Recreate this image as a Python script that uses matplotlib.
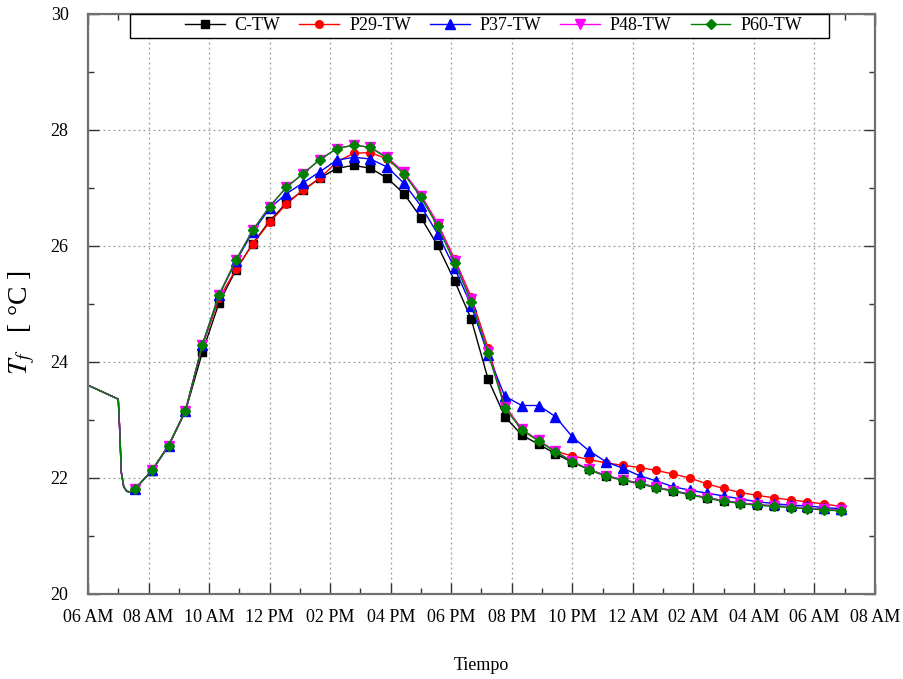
import matplotlib
matplotlib.use("Agg")
import matplotlib.pyplot as plt
from matplotlib.ticker import MultipleLocator
from matplotlib.patches import Rectangle

plt.rcParams['font.family'] = ['Liberation Serif', 'DejaVu Serif']
plt.rcParams['mathtext.fontset'] = 'stix'

# hours after 06:00
t_pre = [0.0, 1.0, 1.05, 1.1, 1.18, 1.28, 1.4]
v_pre = [23.60, 23.36, 22.80, 22.10, 21.85, 21.77, 21.76]

t_mk = [1.55, 2.11, 2.66, 3.22, 3.78, 4.33, 4.89, 5.44, 6.00, 6.55, 7.11, 7.66,
        8.22, 8.78, 9.33, 9.89, 10.44, 11.00, 11.55, 12.11, 12.66, 13.22, 13.77,
        14.33, 14.89, 15.44, 16.00, 16.55, 17.11, 17.66, 18.22, 18.77, 19.33,
        19.88, 20.44, 21.00, 21.55, 22.11, 22.66, 23.22, 23.77, 24.33, 24.88]

c_tw = [21.81, 22.12, 22.55, 23.15, 24.17, 25.02, 25.59, 26.04, 26.43, 26.74, 26.96, 27.17,
        27.34, 27.39, 27.34, 27.17, 26.90, 26.49, 26.01, 25.40, 24.74, 23.70, 23.06,
        22.74, 22.58, 22.42, 22.27, 22.15, 22.04, 21.97, 21.91, 21.84, 21.78,
        21.72, 21.66, 21.61, 21.57, 21.54, 21.52, 21.50, 21.48, 21.46, 21.44]
p29_tw = [21.81, 22.13, 22.56, 23.16, 24.28, 25.10, 25.60, 26.03, 26.41, 26.72, 26.97, 27.17,
          27.45, 27.60, 27.61, 27.50, 27.25, 26.88, 26.39, 25.78, 25.12, 24.24, 23.25,
          22.84, 22.64, 22.46, 22.38, 22.32, 22.26, 22.22, 22.18, 22.13, 22.07,
          22.00, 21.90, 21.82, 21.75, 21.70, 21.66, 21.62, 21.59, 21.55, 21.51]
p37_tw = [21.81, 22.13, 22.56, 23.16, 24.30, 25.15, 25.74, 26.24, 26.65, 26.90, 27.09, 27.28,
          27.48, 27.53, 27.50, 27.36, 27.08, 26.69, 26.21, 25.62, 24.97, 24.12, 23.41,
          23.25, 23.25, 23.06, 22.71, 22.47, 22.28, 22.17, 22.04, 21.95, 21.85,
          21.79, 21.74, 21.69, 21.64, 21.59, 21.56, 21.53, 21.52, 21.49, 21.47]
p48_tw = [21.81, 22.13, 22.56, 23.16, 24.30, 25.16, 25.76, 26.27, 26.68, 27.01, 27.25, 27.49,
          27.68, 27.74, 27.70, 27.53, 27.27, 26.87, 26.38, 25.75, 25.08, 24.18, 23.23,
          22.84, 22.65, 22.46, 22.29, 22.15, 22.04, 21.97, 21.91, 21.84, 21.78,
          21.72, 21.66, 21.61, 21.57, 21.54, 21.52, 21.50, 21.48, 21.46, 21.44]
p60_tw = [21.81, 22.13, 22.56, 23.16, 24.30, 25.16, 25.76, 26.27, 26.68, 27.01, 27.25, 27.49,
          27.68, 27.74, 27.70, 27.51, 27.24, 26.84, 26.34, 25.71, 25.04, 24.15, 23.21,
          22.83, 22.64, 22.45, 22.28, 22.14, 22.03, 21.96, 21.90, 21.83, 21.77,
          21.71, 21.65, 21.60, 21.56, 21.53, 21.51, 21.49, 21.47, 21.45, 21.43]

names = ['C-TW', 'P29-TW', 'P37-TW', 'P48-TW', 'P60-TW']
series = [c_tw, p29_tw, p37_tw, p48_tw, p60_tw]
colors = ['#000000', '#ff0000', '#0000ff', '#ff00ff', '#008000']
markers = ['s', 'o', '^', 'v', 'D']
msizes = [5.5, 5.5, 6.5, 6.5, 5.5]

xtick_labels = ['06 AM', '08 AM', '10 AM', '12 PM', '02 PM', '04 PM', '06 PM', '08 PM',
                '10 PM', '12 AM', '02 AM', '04 AM', '06 AM', '08 AM']

W, H = 904, 679
fig = plt.figure(figsize=(W/100, H/100), dpi=100)
ax = fig.add_axes([88/W, 1-594/H, (875-88)/W, (594-14)/H])

for name, vals, col, mk, ms in zip(names, series, colors, markers, msizes):
    xs = t_pre + t_mk
    ys = v_pre + vals
    ax.plot(xs, ys, color=col, lw=1.0, marker=mk, ms=ms, mec=col, mfc=col,
            markevery=list(range(len(t_pre), len(xs))), label=name)

ax.set_xlim(0, 26)
ax.set_ylim(20, 30)
ax.set_xticks(range(0, 27, 2))
ax.set_xticklabels(xtick_labels)
ax.xaxis.set_minor_locator(MultipleLocator(1))
ax.set_yticks([20, 22, 24, 26, 28, 30])
ax.yaxis.set_minor_locator(MultipleLocator(1))

ax.grid(True, which='major', color='#9a9a9a', linestyle=(0, (1.5, 2.5)), lw=0.9)
ax.tick_params(which='both', direction='in', top=True, right=True, colors='#333333',
               labelcolor='black', labelsize=13)
ax.tick_params(axis='x', which='major', pad=11)
ax.tick_params(axis='y', which='major', pad=14)
ax.tick_params(which='major', length=8, width=1)
ax.tick_params(which='minor', length=4, width=1)
for sp in ax.spines.values():
    sp.set_color('#707070')
    sp.set_linewidth(1.6)

ax.set_xlabel('Tiempo', fontsize=13, labelpad=22)
ax.set_ylabel(r'$T_f$   [ °C ]', fontsize=20)
ax.yaxis.set_label_coords((37-88)/787, (594-323)/580)

# legend box (gnuplot-like, with wide left padding)
box = Rectangle((130/W, 1-38/H), (829-130)/W, 24/H, transform=fig.transFigure,
                facecolor='white', edgecolor='black', lw=1.0, zorder=4.9, clip_on=False)
ax.add_patch(box)
leg = ax.legend(ncol=5, loc='center left', bbox_to_anchor=(185/W, 1-26/H),
                bbox_transform=fig.transFigure, borderaxespad=0, borderpad=0,
                fontsize=13, frameon=False, handlelength=2.2,
                columnspacing=1.05, handletextpad=0.55)
leg.set_zorder(5)

fig.savefig('out.png', dpi=100)
